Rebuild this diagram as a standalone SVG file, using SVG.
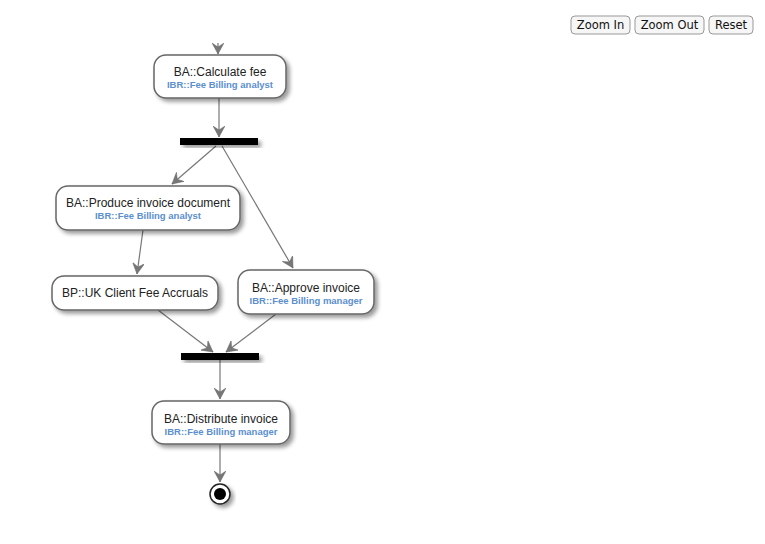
<svg xmlns="http://www.w3.org/2000/svg" width="765" height="544" viewBox="0 0 765 544">
<defs>
<filter id="sh" x="-20%" y="-20%" width="150%" height="160%"><feGaussianBlur in="SourceAlpha" stdDeviation="2"/><feOffset dx="3" dy="3"/><feComponentTransfer><feFuncA type="linear" slope="0.4"/></feComponentTransfer><feMerge><feMergeNode/><feMergeNode in="SourceGraphic"/></feMerge></filter>
<marker id="ar" viewBox="0 0 12 12" refX="11" refY="6" markerWidth="12" markerHeight="12" orient="auto" markerUnits="userSpaceOnUse"><path d="M0,0 L11,6 L0,12 L4,6 Z" fill="#777" stroke="#666" stroke-width="0.5"/></marker>
</defs>
<style>
.box{fill:#fff;stroke:#666;stroke-width:1.5;filter:url(#sh)}
.bar{fill:#000;filter:url(#sh)}
.t{font-family:"Liberation Sans",Arial,sans-serif;font-size:12px;fill:#222;text-anchor:middle}
.s{font-family:"Liberation Sans",Arial,sans-serif;font-size:9.5px;font-weight:bold;fill:#5b8fd0;text-anchor:middle}
.c{fill:none;stroke:#777;stroke-width:1.2;marker-end:url(#ar)}
.btn{fill:#f6f6f6;stroke:#999;stroke-width:1}
.bt{font-family:"Lucida Grande","DejaVu Sans",sans-serif;font-size:11.5px;fill:#111;text-anchor:middle}
</style>
<g id="connectors">
<path class="c" d="M218,43 L218,54"/>
<path class="c" d="M219,98 L219,137"/>
<path class="c" d="M216,146 L172,184"/>
<path class="c" d="M222,146 L293,268"/>
<path class="c" d="M143,230 L137,274"/>
<path class="c" d="M158,310 L213,352"/>
<path class="c" d="M276,314 L226,352"/>
<path class="c" d="M220,360 L220,399"/>
<path class="c" d="M220,444 L220,482"/>
</g>
<g id="calc"><rect class="box" x="154" y="55" width="132" height="43" rx="12"/><text class="t" x="220" y="76">BA::Calculate fee</text><text class="s" x="220" y="88">IBR::Fee Billing analyst</text></g>
<g id="fork"><rect class="bar" x="180" y="138" width="78" height="7"/></g>
<g id="produce"><rect class="box" x="56" y="186" width="184" height="44" rx="12"/><text class="t" x="148" y="207">BA::Produce invoice document</text><text class="s" x="148" y="219">IBR::Fee Billing analyst</text></g>
<g id="accruals"><rect class="box" x="52" y="276" width="166" height="34" rx="12"/><text class="t" x="135" y="297">BP::UK Client Fee Accruals</text></g>
<g id="approve"><rect class="box" x="238" y="270" width="136" height="44" rx="12"/><text class="t" x="306" y="292">BA::Approve invoice</text><text class="s" x="306" y="304">IBR::Fee Billing manager</text></g>
<g id="join"><rect class="bar" x="181" y="353" width="78" height="7"/></g>
<g id="distribute"><rect class="box" x="152" y="401" width="138" height="43" rx="12"/><text class="t" x="221" y="423">BA::Distribute invoice</text><text class="s" x="221" y="435">IBR::Fee Billing manager</text></g>
<g id="end"><circle cx="220" cy="494" r="10" fill="#fff" stroke="#222" stroke-width="1.5" filter="url(#sh)"/><circle cx="220" cy="494" r="6" fill="#000"/></g>
<g id="buttons">
<rect class="btn" x="571" y="16" width="59" height="18" rx="4"/><text class="bt" x="600.5" y="29">Zoom In</text>
<rect class="btn" x="635" y="16" width="69" height="18" rx="4"/><text class="bt" x="669.5" y="29">Zoom Out</text>
<rect class="btn" x="709" y="16" width="44" height="18" rx="4"/><text class="bt" x="731" y="29">Reset</text>
</g>
</svg>
